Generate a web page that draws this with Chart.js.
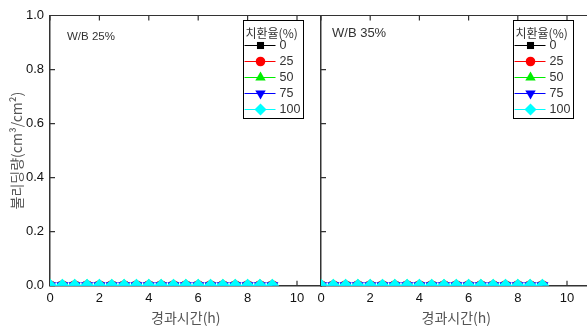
<!DOCTYPE html>
<html>
<head>
<meta charset="utf-8">
<script src="https://cdn.jsdelivr.net/npm/chart.js@4.4.1/dist/chart.umd.min.js"></script>
<style>
  html, body { margin: 0; padding: 0; background: #fff; overflow: hidden; width: 587px; height: 329px; }
  #wrap { position: relative; width: 587px; height: 329px; overflow: hidden; }
  canvas { position: absolute; top: 0; }
  #c1 { left: 0; }
  #c2 { left: 300px; }
</style>
</head>
<body>
<div id="wrap">
  <canvas id="c1" width="330" height="329"></canvas>
  <canvas id="c2" width="300" height="329"></canvas>
</div>
<script>
// elapsed time (h)
const hours = [0, 0.5, 1, 1.5, 2, 2.5, 3, 3.5, 4, 4.5, 5, 5.5, 6, 6.5, 7, 7.5, 8, 8.5, 9];

// replacement ratio (%) series names
const ratios = ['0', '25', '50', '75', '100'];

// bleeding (cm³/cm²), W/B 25%
const wb25_r0   = [0, 0, 0, 0, 0, 0, 0, 0, 0, 0, 0, 0, 0, 0, 0, 0, 0, 0, 0];
const wb25_r25  = [0, 0, 0, 0, 0, 0, 0, 0, 0, 0, 0, 0, 0, 0, 0, 0, 0, 0, 0];
const wb25_r50  = [0, 0, 0, 0, 0, 0, 0, 0, 0, 0, 0, 0, 0, 0, 0, 0, 0, 0, 0];
const wb25_r75  = [0, 0, 0, 0, 0, 0, 0, 0, 0, 0, 0, 0, 0, 0, 0, 0, 0, 0, 0];
const wb25_r100 = [0, 0, 0, 0, 0, 0, 0, 0, 0, 0, 0, 0, 0, 0, 0, 0, 0, 0, 0];

// bleeding (cm³/cm²), W/B 35%
const wb35_r0   = [0, 0, 0, 0, 0, 0, 0, 0, 0, 0, 0, 0, 0, 0, 0, 0, 0, 0, 0];
const wb35_r25  = [0, 0, 0, 0, 0, 0, 0, 0, 0, 0, 0, 0, 0, 0, 0, 0, 0, 0, 0];
const wb35_r50  = [0, 0, 0, 0, 0, 0, 0, 0, 0, 0, 0, 0, 0, 0, 0, 0, 0, 0, 0];
const wb35_r75  = [0, 0, 0, 0, 0, 0, 0, 0, 0, 0, 0, 0, 0, 0, 0, 0, 0, 0, 0];
const wb35_r100 = [0, 0, 0, 0, 0, 0, 0, 0, 0, 0, 0, 0, 0, 0, 0, 0, 0, 0, 0];

const yTickValues = [0, 0.2, 0.4, 0.6, 0.8, 1.0];
const xTickValues = [0, 2, 4, 6, 8, 10];

const seriesStyles = [
  { color: '#000000', pointStyle: 'rect',     rotation: 0,   radius: 5.5, legendRadius: 5 },
  { color: '#ff0000', pointStyle: 'circle',   rotation: 0,   radius: 5.5, legendRadius: 4.8 },
  { color: '#00ee00', pointStyle: 'triangle', rotation: 0,   radius: 7,   legendRadius: 6 },
  { color: '#0000ff', pointStyle: 'triangle', rotation: 180, radius: 7,   legendRadius: 6 },
  { color: '#00ffff', pointStyle: 'rectRot',  rotation: 0,   radius: 7,   legendRadius: 6 }
];

const AXIS = '#333333';
const TICK_FONT = { family: 'Liberation Sans, Arial, sans-serif', size: 13 };
const KR_FONT = 'Noto Sans CJK KR, sans-serif';

function buildDatasets(seriesValues) {
  return seriesValues.map((vals, i) => {
    const s = seriesStyles[i];
    return {
      label: ratios[i],
      data: hours.map((h, k) => ({ x: h, y: vals[k] })),
      order: seriesValues.length - i, // later series are painted on top
      borderColor: s.color,
      backgroundColor: s.color,
      borderWidth: 1,
      pointStyle: s.pointStyle,
      pointRotation: s.rotation,
      pointRadius: s.radius,
      pointBorderWidth: 0,
      pointBackgroundColor: s.color,
      legendRadius: s.legendRadius,
      clip: 0
    };
  });
}

// inward tick marks and top frame line
const framePlugin = {
  id: 'frame',
  beforeDatasetsDraw(chart) {
    const { ctx, chartArea: a, scales: { x, y } } = chart;
    ctx.save();
    ctx.strokeStyle = AXIS;
    ctx.lineWidth = 1.2;
    ctx.beginPath();
    ctx.moveTo(a.left, a.top);
    ctx.lineTo(a.right, a.top);
    xTickValues.forEach(v => {
      const px = x.getPixelForValue(v);
      ctx.moveTo(px, a.top); ctx.lineTo(px, a.top + 5);
      ctx.moveTo(px, a.bottom); ctx.lineTo(px, a.bottom - 5);
    });
    yTickValues.forEach(v => {
      const py = y.getPixelForValue(v);
      ctx.moveTo(a.left, py); ctx.lineTo(a.left + 5, py);
    });
    ctx.stroke();
    ctx.restore();
  }
};

// panel caption and boxed legend with line + marker samples
const legendPlugin = {
  id: 'boxLegend',
  afterDraw(chart, args, o) {
    const { ctx, chartArea: a } = chart;
    ctx.save();
    // caption
    ctx.fillStyle = '#333';
    ctx.font = o.captionFont;
    ctx.textBaseline = 'middle';
    ctx.textAlign = 'left';
    ctx.fillText(o.caption, a.left + o.captionDx, a.top + o.captionDy);

    // legend box
    const w = 60, h = 98;
    const right = a.right - 18.7;
    const left = Math.round(right - w) + 0.5;
    const top = Math.round(a.top + 4.5) + 0.5;
    ctx.fillStyle = '#fff';
    ctx.fillRect(left, top, w, h);
    ctx.strokeStyle = '#000';
    ctx.lineWidth = 1;
    ctx.strokeRect(left, top, w, h);

    ctx.fillStyle = '#333';
    ctx.font = '12px ' + KR_FONT;
    ctx.textAlign = 'left';
    ctx.fillText('치환율(%)', left + 2, top + 12.5);

    ctx.font = '12.5px Liberation Sans, Arial, sans-serif';
    chart.data.datasets.forEach((ds, i) => {
      const yy = top + 25 + i * 16;
      ctx.strokeStyle = ds.borderColor;
      ctx.lineWidth = 1;
      ctx.beginPath();
      ctx.moveTo(left + 1, yy);
      ctx.lineTo(left + 32, yy);
      ctx.stroke();
      ctx.fillStyle = ds.pointBackgroundColor;
      Chart.helpers.drawPoint(ctx, {
        pointStyle: ds.pointStyle,
        rotation: ds.pointRotation,
        radius: ds.legendRadius,
        borderWidth: 0
      }, left + 17, yy);
      ctx.fillStyle = '#333';
      ctx.fillText(ds.label, left + 36, yy + 0.5);
    });
    ctx.restore();
  }
};

function makeChart(canvasId, seriesValues, opts) {
  return new Chart(document.getElementById(canvasId), {
    type: 'line',
    data: { datasets: buildDatasets(seriesValues) },
    plugins: [framePlugin, legendPlugin],
    options: {
      responsive: false,
      animation: false,
      layout: { padding: { top: 15.5, right: opts.padRight, left: 0, bottom: 0 } },
      plugins: {
        legend: { display: false },
        tooltip: { enabled: false },
        boxLegend: {
          caption: opts.caption,
          captionFont: opts.captionFont,
          captionDx: opts.captionDx,
          captionDy: opts.captionDy
        }
      },
      scales: {
        x: {
          type: 'linear',
          min: 0,
          max: 11,
          afterFit: s => { s.height = 43.3; },
          afterBuildTicks: s => { s.ticks = xTickValues.map(v => ({ value: v })); },
          grid: { display: false, drawTicks: false },
          border: { display: true, color: AXIS, width: 1.5 },
          ticks: { font: TICK_FONT, color: '#111', padding: 5, maxRotation: 0 },
          title: {
            display: true,
            text: '경과시간(h)',
            color: '#555',
            font: { family: KR_FONT, size: 14 },
            padding: { top: 0, bottom: 3 }
          }
        },
        y: {
          type: 'linear',
          min: 0,
          max: 1,
          afterFit: s => { s.width = opts.yWidth; },
          afterBuildTicks: s => { s.ticks = yTickValues.map(v => ({ value: v })); },
          grid: { display: false, drawTicks: false },
          border: { display: true, color: AXIS, width: 1.5 },
          ticks: {
            display: opts.showY,
            font: TICK_FONT,
            color: '#111',
            padding: 6,
            callback: v => v.toFixed(1)
          },
          title: {
            display: opts.showY,
            text: '불리딩량(cm³/cm²)',
            color: '#555',
            font: { family: KR_FONT, size: 14 },
            padding: { top: 8, bottom: 0 }
          }
        }
      }
    }
  });
}

makeChart('c1', [wb25_r0, wb25_r25, wb25_r50, wb25_r75, wb25_r100], {
  padRight: 8.3, yWidth: 50, showY: true,
  caption: 'W/B 25%', captionFont: '11.5px Liberation Sans, Arial, sans-serif', captionDx: 17, captionDy: 21.5
});

makeChart('c2', [wb35_r0, wb35_r25, wb35_r50, wb35_r75, wb35_r100], {
  padRight: 8.4, yWidth: 21, showY: false,
  caption: 'W/B 35%', captionFont: '13px Liberation Sans, Arial, sans-serif', captionDx: 11, captionDy: 17.5
});
</script>
</body>
</html>
